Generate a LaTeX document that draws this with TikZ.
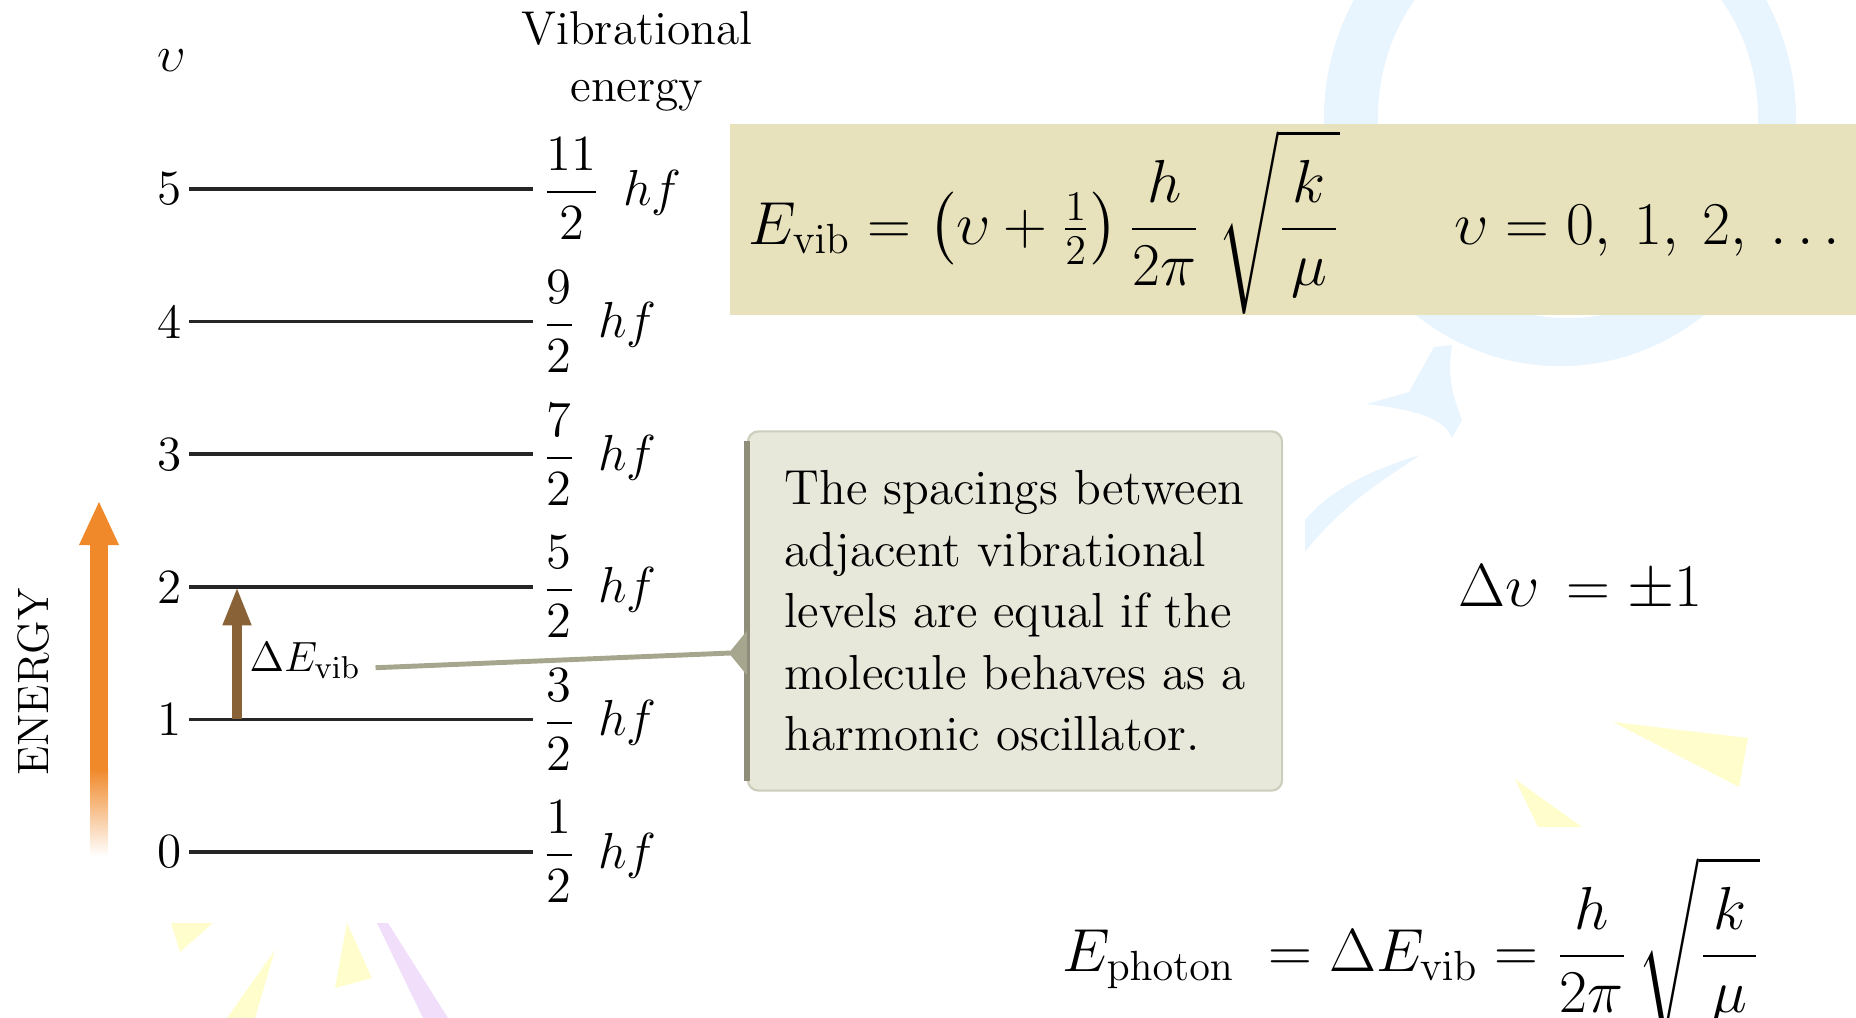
\documentclass[tikz,border=0pt]{standalone}
\usepackage{amsmath}
\usetikzlibrary{arrows.meta, positioning, calc, backgrounds}

\definecolor{khaki}{HTML}{E8E2BC}
\definecolor{notefill}{HTML}{E7E7DA}
\definecolor{noteedge}{HTML}{CDCDBC}
\definecolor{leadgray}{HTML}{A6A68E}
\definecolor{energyorange}{HTML}{F0892A}
\definecolor{arrowbrown}{HTML}{8A6238}
\definecolor{wmblue}{HTML}{E8F5FE}
\definecolor{wmyellow}{HTML}{FFFDCC}
\definecolor{wmpurple}{HTML}{F1DEFB}

\begin{document}
\begin{tikzpicture}[
    x=0.01cm, y=-0.01cm,
    level/.style={line width=1pt, black!85},
    vnum/.style={anchor=east, inner sep=2pt, font=\fontsize{14}{16}\selectfont},
    elabel/.style={anchor=west, inner sep=2.5pt, font=\fontsize{13.5}{16}\selectfont},
    head/.style={align=center, font=\fontsize{13.5}{16.2}\selectfont},
    formula/.style={anchor=base west, inner sep=0pt, font=\fontsize{17}{20}\selectfont},
    notebox/.style={rectangle, draw=noteedge, line width=0.6pt, rounded corners=3pt, fill=notefill, minimum width=5.34cm, minimum height=3.59cm, align=left, font=\fontsize{14}{17.5}\selectfont},
    leader/.style={leadgray, line width=1.4pt},
    jump/.style={arrowbrown, line width=2.6pt, -{Triangle[width=7.5pt, length=11pt]}}
]
\useasboundingbox (0,0) rectangle (1856,1018);

% Headings
\node[font=\fontsize{14}{16}\selectfont] (vhead) at (172,61) {$\upsilon$};
\node[head] (vibhead) at (637,61) {Vibrational\\energy};

% Levels
\foreach \v/\numer in {0/1,1/3,2/5,3/7,4/9,5/11}{
    \draw[level] (189,{852-132.6*\v}) coordinate (s\v) -- (533,{852-132.6*\v}) coordinate (e\v);
    \node[vnum] (n\v) at (s\v) {\v};
    \node[elabel] (en\v) at (e\v) {$\displaystyle\frac{\numer}{2}\;\,hf$};
}

% Energy axis
\fill[energyorange] (90,540) rectangle (108,770);
\shade[top color=energyorange, bottom color=white] (90,769) rectangle (108,856);
\fill[energyorange] (79,545) -- (99,502) -- (119,545) -- cycle;
\node[rotate=90, font=\fontsize{12.5}{15}\selectfont] (energy) at (33,682) {ENERGY};

% Transition
\draw[jump] ($(s1)+(48,0)$) -- ($(s2)+(48,0)$);
\node[anchor=base west, inner sep=0pt, font=\fontsize{13}{15}\selectfont] (dE) at ($(s1)+(60,-48)$) {$\Delta E_{\mathrm{vib}}$};

% Callout
\node[notebox] (note) at (1015,611) {The spacings between\\adjacent vibrational\\levels are equal if the\\molecule behaves as a\\harmonic oscillator.};
\draw[leadgray!85!black, line width=1.7pt] ([yshift=-3pt]note.north west) -- ([yshift=3pt]note.south west);
\fill[leadgray] ($(note.west)+(0,20)$) -- ($(note.west)+(-18,42)$) -- ($(note.west)+(0,64)$) -- cycle;
\draw[leader] ([xshift=4pt, yshift=-2pt]dE.east) -- ($(note.west)+(-16,42)$);

% Formulas
\node[fill=khaki, minimum width=11.27cm, minimum height=1.91cm, anchor=north west, inner sep=0pt] (evbox) at (729,123) {};
\node[formula] (evib) at (748,244) {$\displaystyle E_{\mathrm{vib}} = \bigl(\upsilon + \tfrac{1}{2}\bigr)\,\frac{h}{2\pi}\;\sqrt{\frac{\,k\,}{\mu}}$};
\node[formula] (vrange) at (1454,244) {$\upsilon = 0,\:1,\:2,\:\ldots$};
\node[formula, font=\fontsize{16}{19}\selectfont] (dv) at (1458,606) {$\Delta\upsilon\,=\pm1$};
\node[formula] (ephot) at (1062,971) {$\displaystyle E_{\mathrm{photon}}\; = \Delta E_{\mathrm{vib}} = \frac{h}{2\pi}\,\sqrt{\frac{\,k\,}{\mu}}$};

% Watermark
\begin{scope}[on background layer]
    \fill[wmblue, even odd rule] (1560,120) ellipse [x radius=2.36cm, y radius=2.46cm] (1568,118) ellipse [x radius=1.9cm, y radius=2cm];
    \fill[wmblue] (1434,347) -- (1409,392) -- (1366,404) .. controls (1420,410) and (1445,420) .. (1452,438) -- (1462,420) .. controls (1450,390) and (1448,370) .. (1452,345) -- cycle;
    \fill[wmblue] (1420,455) .. controls (1370,470) and (1330,490) .. (1305,520) -- (1305,552) .. controls (1330,520) and (1360,495) .. (1395,472) -- cycle;
    \fill[wmyellow] (171,923) -- (213,923) -- (180,952) -- cycle;
    \fill[wmyellow] (275,950) -- (227,1018) -- (255,1018) -- cycle;
    \fill[wmyellow] (347,923) -- (372,978) -- (335,988) -- cycle;
    \fill[wmpurple] (377,923) -- (388,923) -- (448,1018) -- (423,1018) -- cycle;
    \fill[wmyellow] (1613,722) -- (1748,738) -- (1739,787) -- cycle;
    \fill[wmyellow] (1515,779) -- (1538,827) -- (1582,827) -- cycle;
\end{scope}

\end{tikzpicture}
\end{document}
